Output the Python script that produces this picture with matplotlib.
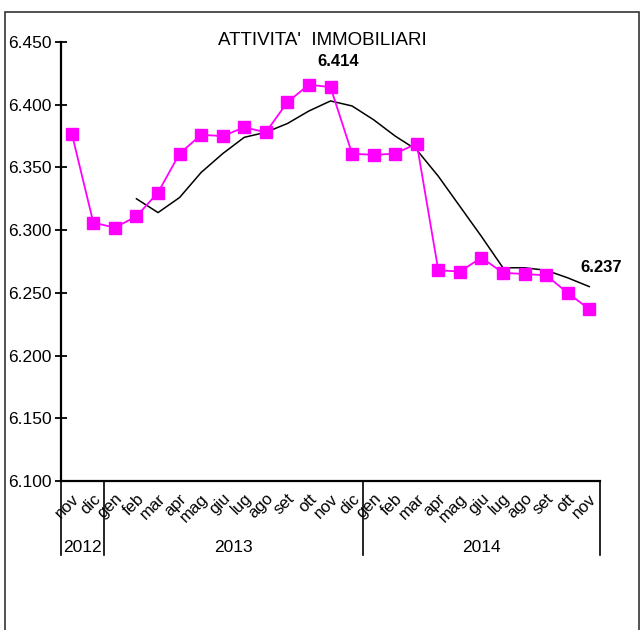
import numpy as np
import matplotlib
matplotlib.use("Agg")
import matplotlib.pyplot as plt
from matplotlib.patches import Rectangle
from matplotlib.transforms import ScaledTranslation, blended_transform_factory

plt.rcParams['font.family'] = ['Liberation Sans', 'DejaVu Sans']

# data
months = ['nov', 'dic',
          'gen', 'feb', 'mar', 'apr', 'mag', 'giu', 'lug', 'ago', 'set', 'ott', 'nov', 'dic',
          'gen', 'feb', 'mar', 'apr', 'mag', 'giu', 'lug', 'ago', 'set', 'ott', 'nov']
years = ['2012', '2013', '2014']
year_counts = [2, 12, 11]

values = [6.377, 6.306,
          6.302, 6.311, 6.330, 6.361, 6.376, 6.375, 6.382, 6.378, 6.402, 6.416, 6.414, 6.361,
          6.360, 6.361, 6.369, 6.268, 6.267, 6.278, 6.266, 6.265, 6.264, 6.250, 6.237]
trend = [np.nan, np.nan,
         np.nan, 6.325, 6.314, 6.326, 6.346, 6.361, 6.374, 6.378, 6.385, 6.395, 6.403, 6.399,
         6.388, 6.375, 6.364, 6.343, 6.319, 6.295, 6.270, 6.270, 6.268, 6.262, 6.255]

x = np.arange(len(months))

fig = plt.figure(figsize=(6.4, 6.3), dpi=100)
ax = fig.add_axes([61/640, 1 - 481/630, 539/640, 439/630])

ax.plot(x, values, color='#FF00FF', lw=1.3, marker='s', markersize=8,
        markeredgecolor='#FF00FF', zorder=3)
ax.plot(x, trend, color='black', lw=1.1, zorder=2)

ax.set_xlim(-0.5, len(months) - 0.5)
ax.set_ylim(6.100, 6.450)
ax.set_yticks(np.arange(6.100, 6.4501, 0.050))
ax.set_yticklabels([f"{v:.3f}" for v in np.arange(6.100, 6.4501, 0.050)])
ax.tick_params(axis='y', direction='inout', length=8, width=1.3, labelsize=12.5, pad=3)

ax.set_xticks(x)
ax.set_xticklabels(months, rotation=45, ha='right', va='center', rotation_mode='anchor', fontsize=12)
ax.tick_params(axis='x', length=0, pad=11)
off = ScaledTranslation(5/100, 0, fig.dpi_scale_trans)
for lab in ax.get_xticklabels():
    lab.set_transform(lab.get_transform() + off)

for s in ['top', 'right']:
    ax.spines[s].set_visible(False)
ax.spines['left'].set_linewidth(1.6)
ax.spines['bottom'].set_linewidth(1.6)

# year separators and labels
trans = blended_transform_factory(ax.transData, ax.transAxes)
bounds = np.concatenate([[0], np.cumsum(year_counts)]) - 0.5
for b in bounds:
    ax.plot([b, b], [0, -0.169], transform=trans, color='black', lw=1.2, clip_on=False)
for i, yr in enumerate(years):
    ax.text((bounds[i] + bounds[i + 1]) / 2, -0.152, yr, transform=trans,
            ha='center', va='center', fontsize=12.5)

ax.text(0.484, 1 - 3/439, "ATTIVITA'  IMMOBILIARI", transform=ax.transAxes,
        ha='center', va='baseline', fontsize=13.5)

ax.annotate("6.414", (12, values[12]), xytext=(8, 21), textcoords='offset pixels',
            ha='center', va='baseline', fontsize=12, fontweight='bold')
ax.annotate("6.237", (24, values[24]), xytext=(12, 37), textcoords='offset pixels',
            ha='center', va='baseline', fontsize=12, fontweight='bold')

fig.patches.append(Rectangle((4.5/640, -0.02), 634/640, 1.02 - 11.5/630, transform=fig.transFigure,
                             fill=False, edgecolor='#333333', lw=1.2))

fig.savefig('out.png', dpi=100)
